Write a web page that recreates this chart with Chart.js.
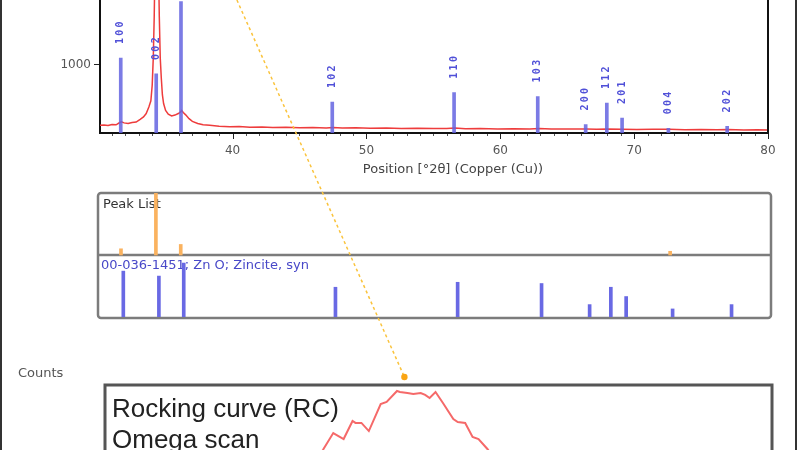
<!DOCTYPE html>
<html>
<head>
<meta charset="utf-8">
<script src="https://cdn.jsdelivr.net/npm/chart.js@4.4.1/dist/chart.umd.min.js"></script>
<style>
  html, body { margin: 0; padding: 0; background: #fff; }
  body { width: 800px; height: 450px; overflow: hidden; position: relative; font-family: "DejaVu Sans", sans-serif; }
  .frame { position: absolute; left: 0; top: 0; width: 793px; height: 450px; border-left: 2px solid #333; border-right: 2px solid #333; }
  canvas { position: absolute; left: 0; }
  #main { top: -30px; }
  #peaks { top: 185px; }
  #rc { top: 0; }
  #counts { position: absolute; left: 18px; top: 365px; font-size: 13px; color: #555; }
</style>
</head>
<body>
<div class="frame"></div>
<canvas id="main" width="800" height="420"></canvas>
<canvas id="peaks" width="800" height="140"></canvas>
<div id="counts">Counts</div>
<canvas id="rc" width="800" height="530"></canvas>
<script>
// measured scan (2theta, counts)
const xrdTheta = [30.1, 30.4, 30.7, 31.0, 31.3, 31.55, 31.7, 31.9, 32.2, 32.5, 32.8, 33.1, 33.35, 33.55, 33.75, 33.9,
  34.0, 34.08, 34.15, 34.22, 34.3, 34.38, 34.46, 34.53, 34.6, 34.68, 34.76, 34.85, 35.0, 35.2, 35.45, 35.7, 35.95,
  36.1, 36.2, 36.32, 36.5, 36.75, 37.0, 37.4, 37.8, 38.3, 39.0, 39.8, 40.5, 41.3, 42.2, 43.0, 44.0, 45.0, 46.0,
  47.0, 47.5, 48.2, 49.2, 50.3, 51.5, 52.6, 53.8, 55.0, 56.0, 56.6, 57.4, 58.5, 59.8, 61.0, 62.2, 62.9, 63.8,
  65.0, 66.4, 67.2, 68.0, 69.1, 70.2, 71.4, 72.6, 73.8, 75.0, 76.2, 77.0, 78.2, 79.2, 80.0];
const xrdCounts = [112, 118, 110, 125, 120, 150, 165, 148, 140, 152, 160, 200, 235, 285, 380, 470,
  700, 1100, 1700, 2600, 3600, 3600, 2600, 1700, 1100, 800, 560, 430, 330, 275, 250, 262, 285,
  305, 330, 300, 265, 210, 170, 140, 120, 112, 100, 92, 95, 85, 88, 80, 84, 76, 79,
  74, 80, 72, 75, 70, 73, 66, 70, 64, 67, 72, 63, 66, 60, 63, 58, 64, 57,
  60, 58, 54, 58, 55, 52, 55, 53, 48, 52, 46, 50, 45, 47, 44];

// reference pattern 00-036-1451 Zn O
const refTheta = [31.65, 34.3, 36.15, 47.45, 56.55, 62.8, 66.38, 67.96, 69.1, 72.56, 76.95];
const refHkl = ['100', '002', '101', '102', '110', '103', '200', '112', '201', '004', '202'];
const refCounts = [1096, 863, 1920, 452, 589, 534, 123, 438, 219, 68, 96];
const refRel = [74, 66, 87, 48, 56, 54, 20, 48, 33, 13, 20];

// peak list
const peakTheta = [31.7, 34.3, 36.15, 72.6];
const peakRel = [10, 100, 17, 6];

const xTickLabels = [40, 50, 60, 70, 80];
const yTickLabels = [1000];

// rocking curve (omega, counts)
const rcOmega = [16.38, 16.47, 16.54, 16.61, 16.67, 16.69, 16.73, 16.78, 16.86, 16.9, 16.97, 16.99, 17.04,
  17.08, 17.13, 17.16, 17.19, 17.23, 17.28, 17.35, 17.38, 17.43, 17.48, 17.52, 17.58, 17.63];
const rcCounts = [393, 536, 657, 614, 743, 729, 729, 671, 864, 879, 957, 950, 943,
  936, 943, 929, 907, 950, 871, 757, 736, 729, 629, 614, 543, 464];

// connector from the scan down to the rocking curve peak
const linkOmega = [15.89, 17.02];
const linkCounts = [3750, 1057];

const pts = (xs, ys) => xs.map((x, i) => ({ x: x, y: ys[i] }));
const minorTicks = [];
for (let v = 31; v <= 80; v++) minorTicks.push(v);

Chart.defaults.font.family = '"DejaVu Sans", sans-serif';

const mainPlugin = {
  id: 'mainPlugin',
  afterDraw(chart) {
    const ctx = chart.ctx, a = chart.chartArea, sx = chart.scales.x;
    ctx.save();
    // right frame line
    ctx.strokeStyle = '#111';
    ctx.lineWidth = 2;
    ctx.beginPath();
    ctx.moveTo(a.right, a.top);
    ctx.lineTo(a.right, a.bottom + 1);
    ctx.stroke();
    // x ticks
    minorTicks.forEach(v => {
      const px = Math.round(sx.getPixelForValue(v)) + 0.5;
      const major = xTickLabels.includes(v);
      ctx.strokeStyle = major ? '#222' : '#555';
      ctx.lineWidth = 1;
      ctx.beginPath();
      ctx.moveTo(px, a.bottom + 1);
      ctx.lineTo(px, a.bottom + (major ? 6 : 3));
      ctx.stroke();
    });
    // axis title
    ctx.fillStyle = '#444';
    ctx.font = '13px "DejaVu Sans"';
    ctx.textAlign = 'center';
    ctx.textBaseline = 'middle';
    ctx.fillText('Position [°2θ] (Copper (Cu))', (a.left + a.right) / 2 + 19, a.bottom + 37);
    // hkl labels above the sticks
    const meta = chart.getDatasetMeta(1);
    ctx.fillStyle = '#5050d8';
    ctx.font = 'bold 10px "DejaVu Sans Mono"';
    meta.data.forEach((bar, i) => {
      const txt = refHkl[i];
      const bottom = bar.y - 13;
      for (let k = 0; k < txt.length; k++) {
        ctx.save();
        ctx.translate(bar.x, bottom - k * 8.3 - 4);
        ctx.rotate(-Math.PI / 2);
        ctx.fillText(txt[k], 0, 0);
        ctx.restore();
      }
    });
    ctx.restore();
  }
};

new Chart(document.getElementById('main'), {
  type: 'bar',
  data: {
    datasets: [{
      type: 'line',
      data: pts(xrdTheta, xrdCounts),
      borderColor: 'rgb(238,60,60)',
      borderWidth: 1.5,
      pointRadius: 0,
      tension: 0,
      order: 2
    }, {
      type: 'bar',
      data: pts(refTheta, refCounts),
      backgroundColor: 'rgba(100,100,225,0.85)',
      barThickness: 3,
      order: 1
    }]
  },
  options: {
    responsive: false,
    animation: false,
    layout: { padding: { top: 0, left: 0, right: 32, bottom: 210 } },
    plugins: { legend: { display: false }, tooltip: { enabled: false } },
    scales: {
      x: {
        type: 'linear', min: 30.1, max: 80, offset: false,
        afterBuildTicks: s => { s.ticks = minorTicks.map(v => ({ value: v })); },
        afterFit: s => { s.height = 47; },
        ticks: {
          autoSkip: false, maxRotation: 0, padding: 11, color: '#555',
          font: { size: 12 },
          callback: v => xTickLabels.includes(v) ? String(v) : ''
        },
        grid: { drawOnChartArea: false, drawTicks: false },
        border: { color: '#111', width: 2 }
      },
      y: {
        min: 0, max: 2233,
        afterBuildTicks: s => { s.ticks = yTickLabels.map(v => ({ value: v })); },
        afterFit: s => { s.width = 100; },
        ticks: { padding: 3, color: '#555', font: { size: 12 }, callback: v => String(v) },
        grid: { drawOnChartArea: false, tickLength: 6, tickColor: '#222' },
        border: { color: '#111', width: 2 }
      }
    }
  },
  plugins: [mainPlugin]
});

const peakPlugin = {
  id: 'peakPlugin',
  beforeDatasetsDraw(chart) {
    const ctx = chart.ctx, a = chart.chartArea, sy = chart.scales.y;
    const l = a.left - 3, t = a.top, r = a.right, b = a.bottom + 1;
    ctx.save();
    ctx.strokeStyle = '#7c7c7c';
    ctx.lineWidth = 2.5;
    ctx.beginPath();
    ctx.roundRect(l, t, r - l, b - t, 3);
    ctx.stroke();
    const mid = sy.getPixelForValue(100);
    ctx.beginPath();
    ctx.moveTo(l, mid);
    ctx.lineTo(r, mid);
    ctx.stroke();
    ctx.font = '13px "DejaVu Sans"';
    ctx.textBaseline = 'middle';
    ctx.fillStyle = '#333';
    ctx.fillText('Peak List', l + 5, t + 12);
    ctx.fillStyle = '#4848c8';
    ctx.fillText('00-036-1451; Zn O; Zincite, syn', l + 3, mid + 11);
    ctx.restore();
  }
};

new Chart(document.getElementById('peaks'), {
  type: 'bar',
  data: {
    datasets: [{
      data: peakTheta.map((t, i) => ({ x: t, y: [100, 100 + peakRel[i]] })),
      backgroundColor: 'rgb(250,178,95)',
      barThickness: 3
    }, {
      data: pts(refTheta, refRel),
      backgroundColor: 'rgb(105,105,228)',
      barThickness: 3
    }]
  },
  options: {
    responsive: false,
    animation: false,
    layout: { padding: { top: 8, left: 101, right: 29, bottom: 8 } },
    plugins: { legend: { display: false }, tooltip: { enabled: false } },
    scales: {
      x: { type: 'linear', min: 30.1, max: 80, offset: false, display: false },
      y: { min: 0, max: 200, display: false }
    }
  },
  plugins: [peakPlugin]
});

const rcPlugin = {
  id: 'rcPlugin',
  beforeDatasetsDraw(chart) {
    const ctx = chart.ctx, a = chart.chartArea;
    ctx.save();
    ctx.strokeStyle = '#555';
    ctx.lineWidth = 3;
    ctx.strokeRect(a.left, a.top, a.right - a.left, a.bottom - a.top);
    ctx.fillStyle = '#222';
    ctx.font = '26px "Liberation Sans"';
    ctx.textBaseline = 'alphabetic';
    ctx.fillText('Rocking curve (RC)', a.left + 7, a.top + 32);
    ctx.fillText('Omega scan', a.left + 7, a.top + 63);
    ctx.restore();
  },
  afterDatasetsDraw(chart) {
    // end marker of the connector sits just above the box, outside the chart area
    const end = chart.getDatasetMeta(1).data[1];
    const ctx = chart.ctx;
    ctx.save();
    ctx.fillStyle = 'rgb(250,165,20)';
    ctx.beginPath();
    ctx.arc(end.x, end.y, 3.2, 0, Math.PI * 2);
    ctx.fill();
    ctx.restore();
  }
};

new Chart(document.getElementById('rc'), {
  type: 'line',
  data: {
    datasets: [{
      data: pts(rcOmega, rcCounts),
      borderColor: 'rgb(245,105,105)',
      borderWidth: 2,
      pointRadius: 0,
      tension: 0
    }, {
      data: pts(linkOmega, linkCounts),
      borderColor: 'rgb(250,195,60)',
      borderWidth: 1.5,
      borderDash: [3, 3],
      clip: false,
      pointRadius: 0
    }]
  },
  options: {
    responsive: false,
    animation: false,
    layout: { padding: { top: 385, left: 105, right: 28, bottom: 5 } },
    plugins: { legend: { display: false }, tooltip: { enabled: false } },
    scales: {
      x: { type: 'linear', min: 15, max: 19.5, display: false },
      y: { min: 0, max: 1000, display: false }
    }
  },
  plugins: [rcPlugin]
});
</script>
</body>
</html>
